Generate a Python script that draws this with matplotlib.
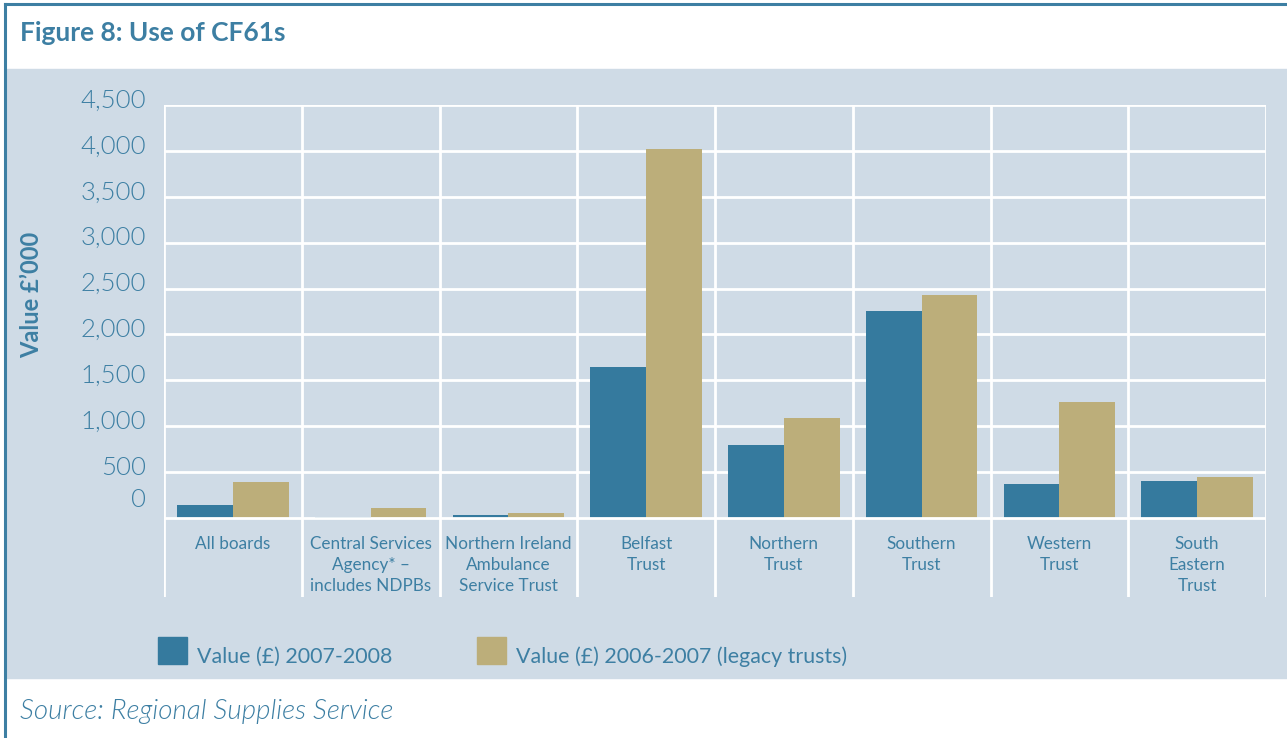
import matplotlib.pyplot as plt
import matplotlib.transforms as mtransforms
from matplotlib.patches import Rectangle
import numpy as np

plt.rcParams['font.family'] = ['Lato', 'DejaVu Sans']

# data (values in £'000)
categories = ['All boards', 'Central Services\nAgency* \u2013\nincludes NDPBs',
              'Northern Ireland\nAmbulance\nService Trust', 'Belfast\nTrust',
              'Northern\nTrust', 'Southern\nTrust', 'Western\nTrust',
              'South\nEastern\nTrust']
value_0708 = [140, 15, 35, 1640, 790, 2250, 370, 400]
value_0607 = [390, 110, 55, 4020, 1090, 2425, 1260, 445]
series_names = ['Value (\u00a3) 2007-2008', 'Value (\u00a3) 2006-2007 (legacy trusts)']
yticks = [0, 500, 1000, 1500, 2000, 2500, 3000, 3500, 4000, 4500]
ytick_labels = ['0', '500', '1,000', '1,500', '2,000', '2,500', '3,000', '3,500', '4,000', '4,500']

blue = '#357a9e'
gold = '#bcae7a'
panel = '#cfdbe6'
txt = '#3d7fa3'

W, H = 1287, 738
fig = plt.figure(figsize=(W / 100, H / 100), dpi=100)

# panel background and frame lines
fig.patches.append(Rectangle((7 / W, 1 - 678 / H), 1 - 7 / W, (678 - 69) / H,
                             transform=fig.transFigure, color=panel, zorder=-10))
fig.add_artist(plt.Line2D([5 / W, 1], [1 - 4 / H, 1 - 4 / H], color=txt, lw=2.2))
fig.add_artist(plt.Line2D([5 / W, 5 / W], [0, 1 - 4 / H], color=txt, lw=2.2))

fig.text(20 / W, 1 - 33 / H, 'Figure 8: Use of CF61s', fontsize=19, fontweight='bold',
         color=txt, va='center', ha='left')
fig.text(20 / W, 1 - 711 / H, 'Source: Regional Supplies Service', fontsize=20,
         fontstyle='italic', fontweight=300, color=txt, va='center', ha='left')

ax = fig.add_axes([164 / W, 1 - 597 / H, 1102 / W, 492 / H])
ax.set_zorder(1)
ax.patch.set_alpha(0)
for s in ax.spines.values():
    s.set_visible(False)

n = len(categories)
x = np.arange(n)
bw = 0.405
ax.bar(x - bw / 2, value_0708, bw, color=blue, zorder=3)
ax.bar(x + bw / 2, value_0607, bw, color=gold, zorder=3)

ax.set_xlim(-0.5, n - 0.5)
ax.set_ylim(-861, 4500)

# white grid
for yv in yticks:
    ax.axhline(yv, color='white', lw=2, zorder=2 if yv else 4)
for xv in np.arange(n + 1) - 0.5:
    ax.axvline(xv, color='white', lw=2, zorder=2)

ax.set_xticks([])
ax.set_yticks(yticks, ytick_labels)
ax.tick_params(axis='y', length=0, pad=13, labelsize=18.5, labelcolor=txt)
for lab, yv in zip(ax.get_yticklabels(), yticks):
    dy = 15 if yv == 0 else 5
    lab.set_transform(lab.get_transform() +
                      mtransforms.ScaledTranslation(0, dy / 72, fig.dpi_scale_trans))
    lab.set_fontweight(300)

ax.set_ylabel('Value \u00a3\u2019000', fontsize=17, fontweight='bold', color=txt, labelpad=0)
ax.yaxis.set_label_coords(-(164 - 43) / 1102, (597 - 295) / 492)

tr = mtransforms.blended_transform_factory(ax.transData, ax.transAxes)
for i, c in enumerate(categories):
    ax.text(i, (597 - 536) / 492, c, transform=tr, ha='center', va='top', fontsize=12.3,
            color=txt, linespacing=1.38)

# legend drawn by hand
for k, (name, col) in enumerate(zip(series_names, [blue, gold])):
    x0 = [158, 477][k]
    fig.patches.append(Rectangle((x0 / W, 1 - 664 / H), 29 / W, 27 / H,
                                 transform=fig.transFigure, color=col))
    fig.text((x0 + 39) / W, 1 - 657 / H, name, fontsize=15.4, color=txt, va='center', ha='left')

fig.savefig('out.png', dpi=100)
